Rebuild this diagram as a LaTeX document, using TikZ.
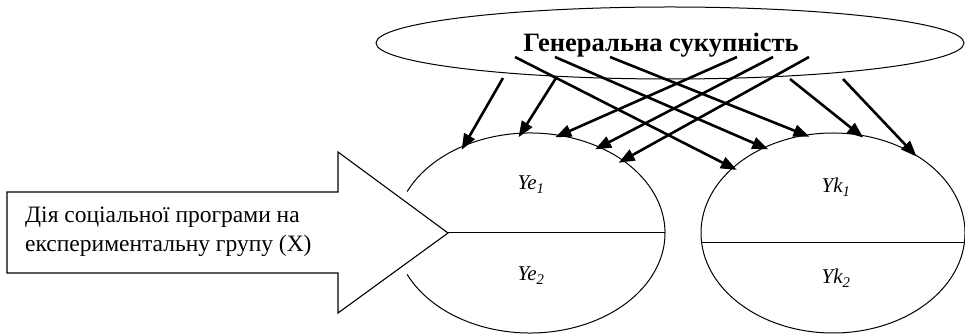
\documentclass[tikz,border=0pt]{standalone}
\usepackage{fontspec}
\setmainfont{Liberation Serif}
\usetikzlibrary{arrows.meta, shapes.geometric}

\begin{document}
\begin{tikzpicture}[x=1pt, y=1pt,
    oval/.style={ellipse, draw, line width=1pt, inner sep=0pt},
    link/.style={-{Triangle[length=16pt, width=12pt]}, line width=2.6pt, shorten >=-5pt},
    lab/.style={font=\fontsize{21}{24}\selectfont\itshape, anchor=base}]
  \useasboundingbox (0,0) rectangle (965,334);
  % population
  \node[oval, minimum width=588, minimum height=72] (gen) at (670,291) {};
  \node[font=\fontsize{26.5}{30}\selectfont\bfseries, anchor=base] (gentext) at (661,282) {Генеральна сукупність};
  % samples
  \node[ellipse, minimum width=270, minimum height=200, inner sep=0pt] (ye) at (530,101) {};
  \draw[line width=1pt] ([shift={(155.5:135 and 100)}]ye.center) arc[start angle=155.5, end angle=-155.5, x radius=135, y radius=100];
  \node[oval, minimum width=264, minimum height=200] (yk) at (833,101) {};
  \draw[line width=1pt] (yk.184) -- (yk.-4);
  \node[lab] (ye1) at (531,144) {Ye\textsubscript{1}};
  \node[lab] (ye2) at (531,53) {Ye\textsubscript{2}};
  \node[lab] (yk1) at (836,141) {Yk\textsubscript{1}};
  \node[lab] (yk2) at (836,50) {Yk\textsubscript{2}};
  % programme
  \draw[line width=1.1pt] (7,142) -- (338,142) -- (338,182) -- (448,101) coordinate (tip)
    -- (338,21) -- (338,61) -- (7,61) -- cycle;
  \node[font=\fontsize{23.5}{29}\selectfont, align=left, anchor=west, inner sep=0pt] (prog) at (25,102)
    {Дія соціальної програми на\\експериментальну групу (X)};
  \draw[line width=1pt] (tip) -- (ye.east);
  % selection
  \coordinate (g1) at (503,256);
  \coordinate (g2) at (556,256);
  \coordinate (g3) at (515,277);
  \coordinate (g4) at (555,277);
  \coordinate (g5) at (610,277);
  \coordinate (g6) at (737,277);
  \coordinate (g7) at (773,277);
  \coordinate (g8) at (809,277);
  \coordinate (g9) at (790,255);
  \coordinate (g10) at (843,255);
  \foreach \src/\dst in {g1/ye.127, g2/ye.95, g6/ye.73, g7/ye.51, g8/ye.38,
      g3/yk.147, g4/yk.129, g5/yk.106, g9/yk.75, g10/yk.45}
    \draw[link] (\src) -- (\dst);
\end{tikzpicture}
\end{document}
